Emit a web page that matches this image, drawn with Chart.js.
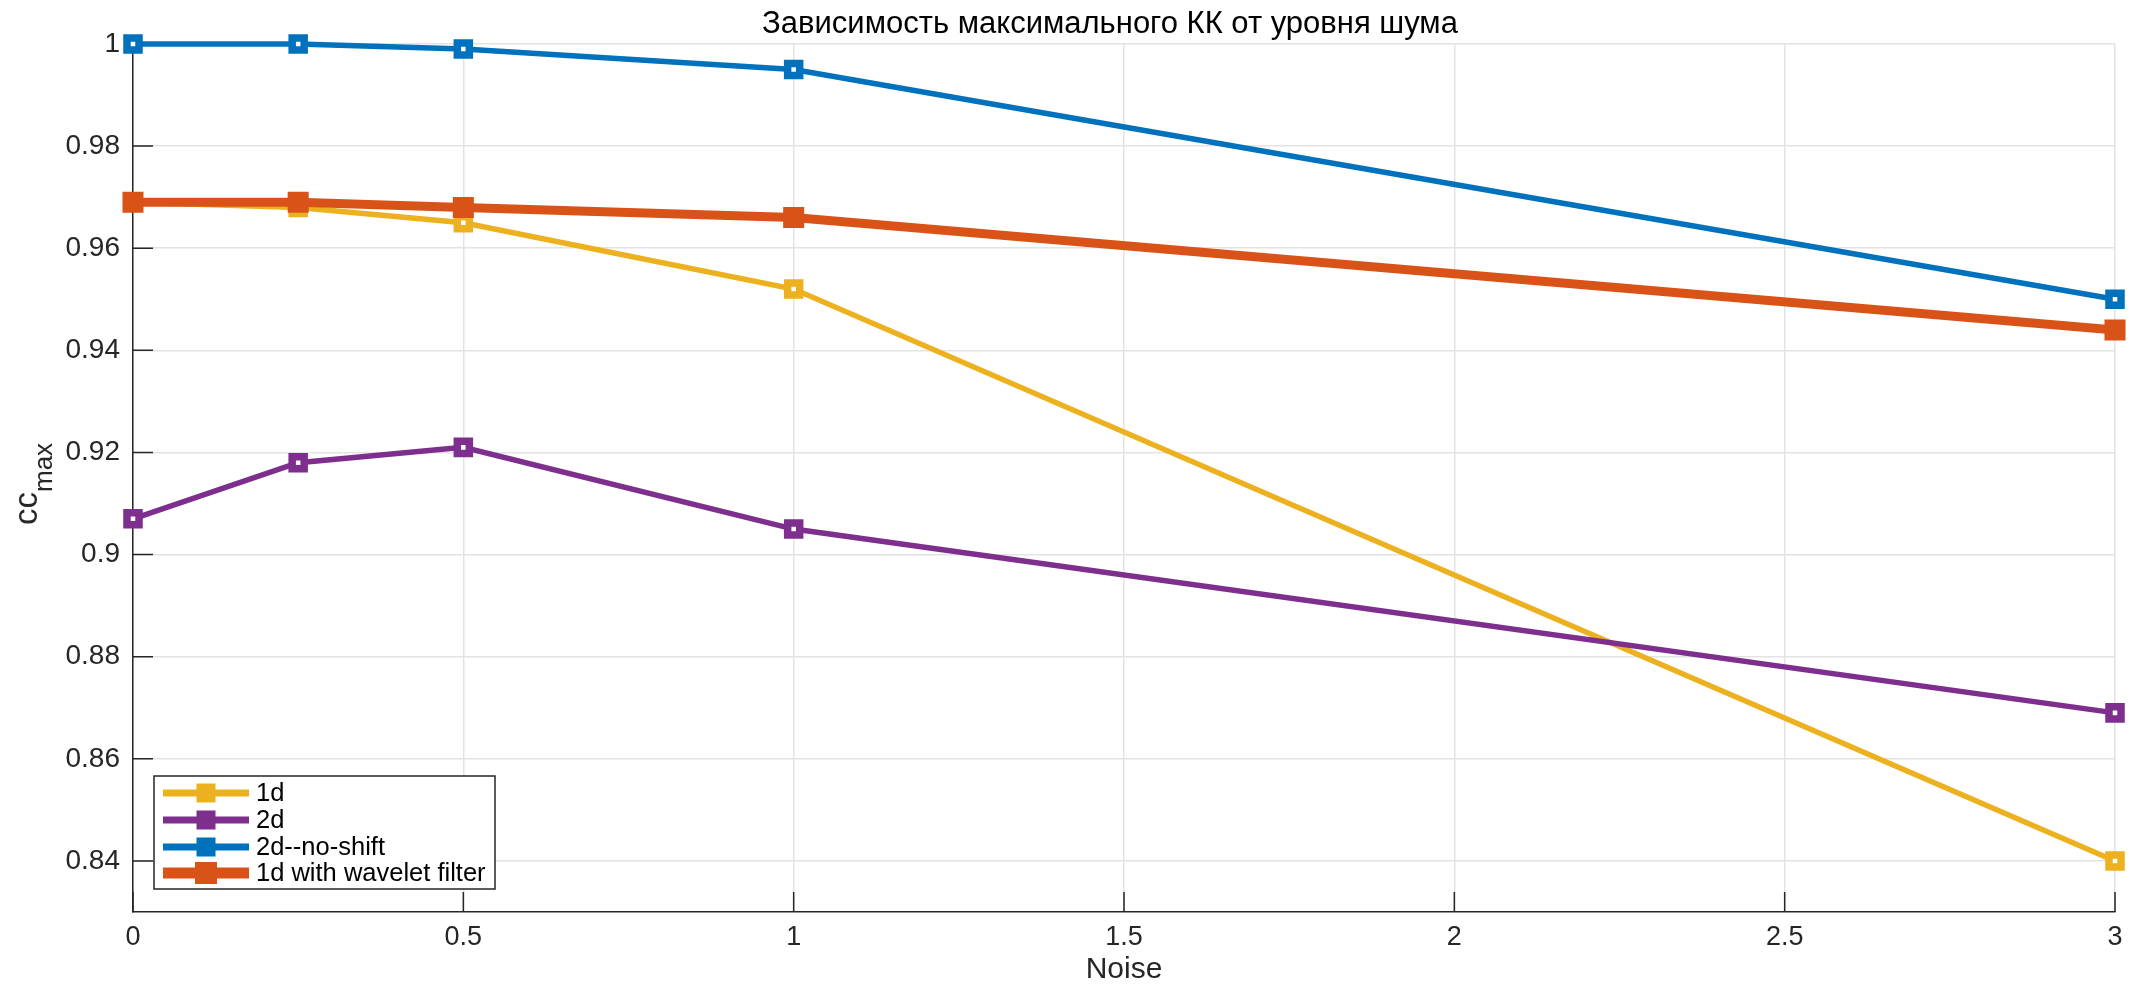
<!DOCTYPE html>
<html>
<head>
<meta charset="utf-8">
<script src="https://cdn.jsdelivr.net/npm/chart.js@4/dist/chart.umd.min.js"></script>
<style>
  html, body { margin: 0; padding: 0; background: #ffffff; }
  #wrap { width: 2138px; height: 985px; }
</style>
</head>
<body>
<div id="wrap"><canvas id="c" width="2138" height="985"></canvas></div>
<script>
// ---- Data ----
const titleText = 'Зависимость максимального КК от уровня шума';
const xLabel = 'Noise';
const yLabelMain = 'cc';
const yLabelSub = 'max';
const noise = [0, 0.25, 0.5, 1, 3];
const seriesNames = ['1d', '2d', '2d--no-shift', '1d with wavelet filter'];
const v1d = [0.969, 0.968, 0.965, 0.952, 0.840];
const v2d = [0.907, 0.918, 0.921, 0.905, 0.869];
const v2dNoShift = [1.000, 1.000, 0.999, 0.995, 0.950];
const v1dWavelet = [0.969, 0.969, 0.968, 0.966, 0.944];
const xTicks = [0, 0.5, 1, 1.5, 2, 2.5, 3];
const xTickLabels = ['0', '0.5', '1', '1.5', '2', '2.5', '3'];
const yTicks = [0.84, 0.86, 0.88, 0.90, 0.92, 0.94, 0.96, 0.98, 1.00];
const yTickLabels = ['0.84', '0.86', '0.88', '0.9', '0.92', '0.94', '0.96', '0.98', '1'];

const FONT = '"Liberation Sans", Arial, Helvetica, sans-serif';
const AXIS_COLOR = '#262626';
const GRID_COLOR = '#e3e3e3';
const colors = ['#EDB120', '#7E2F8E', '#0072BD', '#D95319'];
const lineWidths = [5.5, 5.5, 5.5, 9];
const allValues = [v1d, v2d, v2dNoShift, v1dWavelet];

function pts(vals) { return noise.map((x, i) => ({ x: x, y: vals[i] })); }

const datasets = allValues.map((vals, i) => ({
  label: seriesNames[i],
  data: pts(vals),
  borderColor: colors[i],
  backgroundColor: colors[i],
  borderWidth: lineWidths[i],
  tension: 0,
  pointStyle: 'rect',
  pointRadius: 8.5,
  pointHoverRadius: 8.5,
  pointBorderWidth: i === 3 ? 9 : 7.5,
  pointBorderColor: colors[i],
  pointBackgroundColor: i === 3 ? colors[i] : '#ffffff',
  clip: false,
  order: 4 - i
}));

// Inward tick marks
const innerTicks = {
  id: 'innerTicks',
  beforeDatasetsDraw(chart) {
    const { ctx, chartArea: a, scales: { x, y } } = chart;
    ctx.save();
    ctx.strokeStyle = AXIS_COLOR;
    ctx.lineWidth = 1.5;
    ctx.beginPath();
    yTicks.forEach(v => { const py = y.getPixelForValue(v); ctx.moveTo(a.left, py); ctx.lineTo(a.left + 20, py); });
    xTicks.forEach(v => { const px = x.getPixelForValue(v); ctx.moveTo(px, a.bottom); ctx.lineTo(px, a.bottom - 20); });
    ctx.stroke();
    ctx.restore();
  }
};

// Title and Y axis label with subscript
const texts = {
  id: 'texts',
  afterDraw(chart) {
    const { ctx } = chart;
    ctx.save();
    ctx.fillStyle = '#000000';
    ctx.font = '31px ' + FONT;
    ctx.textAlign = 'center';
    ctx.textBaseline = 'alphabetic';
    ctx.fillText(titleText, 1110, 33);

    ctx.fillStyle = AXIS_COLOR;
    ctx.translate(37, 525);
    ctx.rotate(-Math.PI / 2);
    ctx.textBaseline = 'alphabetic';
    ctx.textAlign = 'left';
    ctx.font = '33px ' + FONT;
    ctx.fillText(yLabelMain, 0, 0);
    const w = ctx.measureText(yLabelMain).width;
    ctx.font = '26px ' + FONT;
    ctx.fillText(yLabelSub, w, 15);
    ctx.restore();
  }
};

// Legend inside plot (bottom-left)
const boxLegend = {
  id: 'boxLegend',
  afterDraw(chart) {
    const { ctx } = chart;
    const bx = 154, by = 776, bw = 341, bh = 113;
    ctx.save();
    ctx.fillStyle = '#ffffff';
    ctx.fillRect(bx, by, bw, bh);
    ctx.strokeStyle = AXIS_COLOR;
    ctx.lineWidth = 1.5;
    ctx.strokeRect(bx, by, bw, bh);
    const rows = [793, 820, 847, 873];
    chart.data.datasets.forEach((ds, i) => {
      const yy = rows[i];
      ctx.strokeStyle = ds.borderColor;
      ctx.lineWidth = i === 3 ? 11 : 7;
      ctx.beginPath();
      ctx.moveTo(163, yy); ctx.lineTo(249, yy);
      ctx.stroke();
      ctx.fillStyle = ds.borderColor;
      const s = i === 3 ? 22 : 19;
      ctx.fillRect(206 - s / 2, yy - s / 2, s, s);
      ctx.fillStyle = '#000000';
      ctx.font = '25.5px ' + FONT;
      ctx.textBaseline = 'middle';
      ctx.textAlign = 'left';
      ctx.fillText(ds.label, 256, yy + 1);
    });
    ctx.restore();
  }
};

new Chart(document.getElementById('c'), {
  type: 'line',
  data: { datasets: datasets },
  options: {
    responsive: false,
    animation: false,
    devicePixelRatio: 1,
    layout: { padding: { left: 0, right: 23, top: 44, bottom: 0 } },
    plugins: {
      legend: { display: false },
      tooltip: { enabled: false },
      title: { display: false }
    },
    scales: {
      x: {
        type: 'linear',
        min: 0, max: 3,
        afterBuildTicks(scale) { scale.ticks = xTicks.map(v => ({ value: v })); },
        afterFit(scale) { scale.height = 73; },
        ticks: {
          color: AXIS_COLOR,
          font: { family: FONT, size: 27 },
          padding: 9,
          maxRotation: 0,
          autoSkip: false,
          callback: (v, idx) => xTickLabels[idx]
        },
        grid: { color: GRID_COLOR, lineWidth: 1.5, drawTicks: false },
        border: { display: true, color: AXIS_COLOR, width: 1.5 },
        title: {
          display: true,
          text: xLabel,
          color: AXIS_COLOR,
          font: { family: FONT, size: 30, lineHeight: 1 },
          padding: { top: 0, bottom: 0 }
        }
      },
      y: {
        type: 'linear',
        min: 0.83, max: 1,
        afterBuildTicks(scale) { scale.ticks = yTicks.map(v => ({ value: v })); },
        afterFit(scale) { scale.width = 133; },
        ticks: {
          color: AXIS_COLOR,
          font: { family: FONT, size: 28 },
          padding: 13,
          autoSkip: false,
          callback: (v, idx) => yTickLabels[idx]
        },
        grid: { color: GRID_COLOR, lineWidth: 1.5, drawTicks: false },
        border: { display: true, color: AXIS_COLOR, width: 1.5 }
      }
    }
  },
  plugins: [innerTicks, texts, boxLegend]
});
</script>
</body>
</html>
